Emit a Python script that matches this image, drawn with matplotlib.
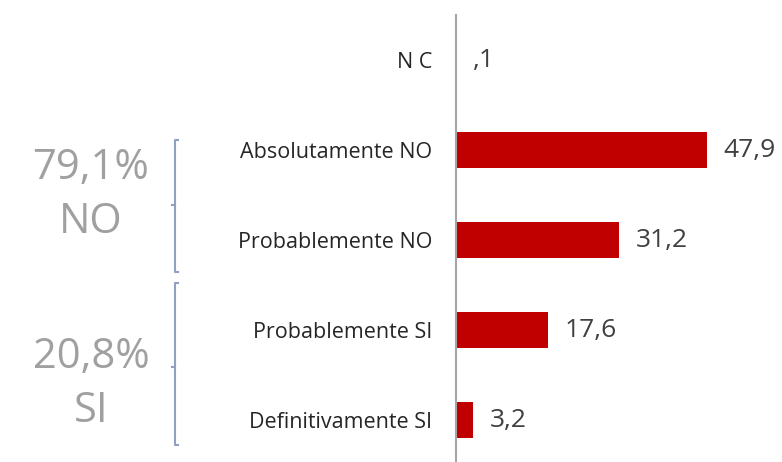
import matplotlib.pyplot as plt
import matplotlib.transforms as mtransforms

# datos
categorias = ["N C", "Absolutamente NO", "Probablemente NO", "Probablemente SI", "Definitivamente SI"]
valores = [0.1, 47.9, 31.2, 17.6, 3.2]
etiquetas = [",1", "47,9", "31,2", "17,6", "3,2"]
grupos = ["79,1%\nNO", "20,8%\nSI"]

plt.rcParams['font.family'] = ['Open Sans', 'DejaVu Sans']

fig = plt.figure(figsize=(7.82, 4.62), dpi=100)
ax = fig.add_axes([0.5831, -0.0065, 0.4016, 0.974])

y = list(range(len(categorias)))
ax.barh(y, valores, height=0.4, color="#C00000")
ax.set_ylim(4.5, -0.5)
ax.set_xlim(0, 60)

for yi, v, lab in zip(y, valores, etiquetas):
    ax.annotate(lab, (v, yi), xytext=(12, 0), textcoords="offset points",
                va="center", ha="left", fontsize=19, color="#404040")

ax.set_yticks(y)
ax.set_yticklabels(categorias, fontsize=15.5, color="#262626")
ax.tick_params(axis="y", length=0, pad=17)
ax.set_xticks([])
for s in ["top", "right", "bottom"]:
    ax.spines[s].set_visible(False)
ax.spines["left"].set_color("#a6a6a6")
ax.spines["left"].set_linewidth(1.5)

# llaves de grupos
tr = mtransforms.blended_transform_factory(fig.transFigure, ax.transData)
bx = 175 / 782
tick = 3 / 782
for y0, y1, ym in [(0.89, 2.36, 1.61), (2.48, 4.28, 3.41)]:
    ax.plot([bx + tick, bx, bx, bx + tick], [y0, y0, y1, y1], transform=tr,
            color="#8fa2c4", lw=1.5, clip_on=False)
    ax.plot([bx - tick, bx], [ym, ym], transform=tr, color="#8fa2c4", lw=1.5, clip_on=False)

for g, yc in zip(grupos, [1.5, 3.6]):
    ax.text(91 / 782, yc, g, transform=tr, ha="center", va="center",
            fontsize=30, color="#a0a0a0", linespacing=1.38)

fig.savefig("out.png", dpi=100)
